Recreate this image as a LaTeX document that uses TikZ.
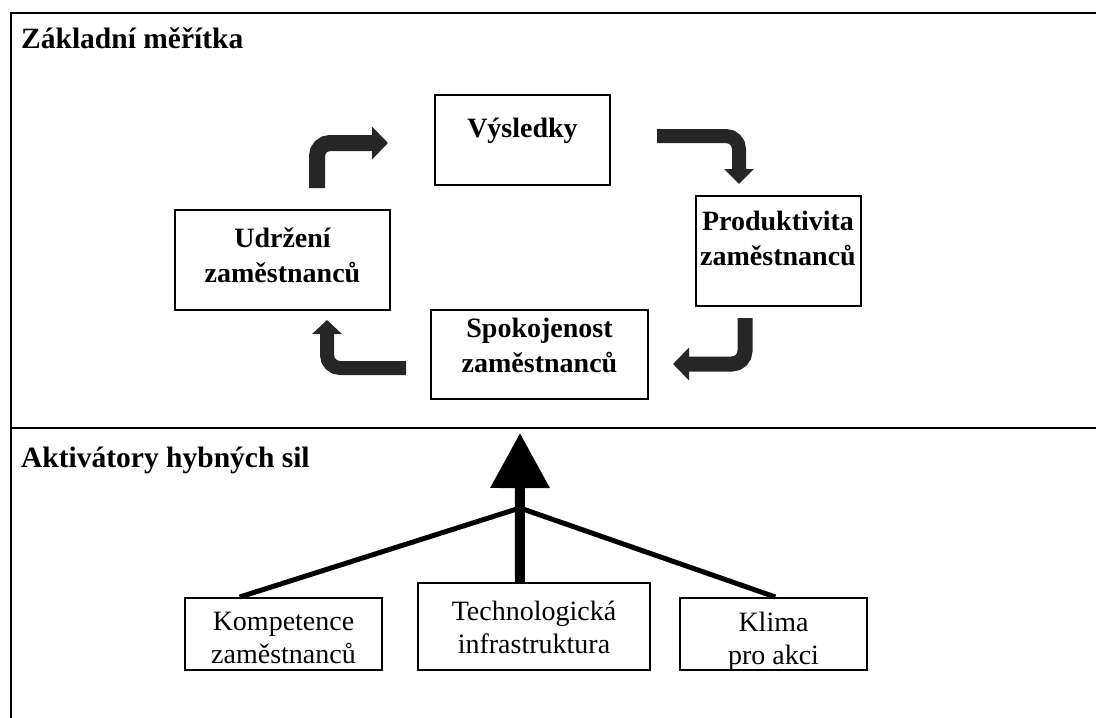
\documentclass[tikz,border=0pt]{standalone}
\usepackage{fontspec}
\setmainfont{Liberation Serif}
\usetikzlibrary{arrows.meta,calc}
\definecolor{ribbon}{HTML}{262626}
\newcommand\liftlines[2]{\raisebox{#1}[0pt][0pt]{\begin{tabular}{@{}c@{}}#2\end{tabular}}}
\tikzset{
  box/.style={draw, line width=2pt, inner sep=0pt, align=center,
    font=\fontsize{28}{33}\selectfont},
  bbox/.style={box, font=\fontsize{28}{35}\selectfont\bfseries},
  title/.style={anchor=base west, inner sep=0pt, font=\fontsize{29.5}{34}\selectfont\bfseries},
  frame/.style={line width=2.5pt, black},
  bent/.style={ribbon, rounded corners=13pt},
  fork/.style={line width=5pt, black},
}
\begin{document}
\begin{tikzpicture}[x=1pt,y=-1pt]
\useasboundingbox (0,0) rectangle (1096,718);
% frame
\draw[frame] (11,718) -- (11,13) -- (1096,13);
\draw[frame] (11,428) -- (1096,428);
% titles
\node[title] (t1) at (21,48) {Základní měřítka};
\node[title] (t2) at (21,467) {Aktivátory hybných sil};
% cycle boxes
\node[bbox, minimum width=175pt, minimum height=90pt] (vys) at (522.5,140) {\liftlines{3pt}{Výsledky}};
\node[bbox, minimum width=165pt, minimum height=110pt] (prod) at (778,251) {\liftlines{4pt}{Produktivita\\zaměstnanců}};
\node[bbox, minimum width=217pt, minimum height=89pt] (spok) at (539.5,354.5) {\liftlines{0pt}{Spokojenost\\zaměstnanců}};
\node[bbox, minimum width=215pt, minimum height=100pt] (udr) at (282.5,260) {\liftlines{-4pt}{Udržení\\zaměstnanců}};
% enabler boxes
\node[box, minimum width=197pt, minimum height=72pt] (komp) at (283.5,634) {\liftlines{-13pt}{Kompetence\\zaměstnanců}};
\node[box, minimum width=232pt, minimum height=87pt] (tech) at (534,626.5) {\liftlines{-10pt}{Technologická\\infrastruktura}};
\node[box, minimum width=187pt, minimum height=72pt] (klim) at (773.5,634) {\liftlines{-14pt}{Klima\\pro akci}};
% bent arrows
\coordinate (a1s) at (317,188); \coordinate (a1c) at (317,143); \coordinate (a1e) at (388,143);
\draw[bent, line width=16pt, -{Triangle[length=16pt,width=32pt]}] (a1s) -- (a1c) -- (a1e);
\coordinate (a2s) at (657,136); \coordinate (a2c) at (739,136); \coordinate (a2e) at (739,184);
\draw[bent, line width=14pt, -{Triangle[length=15pt,width=29pt]}] (a2s) -- (a2c) -- (a2e);
\coordinate (a3s) at (745,318); \coordinate (a3c) at (745,364); \coordinate (a3e) at (673,364);
\draw[bent, line width=15pt, -{Triangle[length=16pt,width=32pt]}] (a3s) -- (a3c) -- (a3e);
\coordinate (a4s) at (406,368); \coordinate (a4c) at (327,368); \coordinate (a4e) at (327,320);
\draw[bent, line width=14pt, -{Triangle[length=14pt,width=29pt]}] (a4s) -- (a4c) -- (a4e);
% big arrow and fork
\coordinate (tip) at (520,433);
\coordinate (junc) at (520,508);
\draw[line width=10pt, -{Triangle[length=55pt,width=57pt]}] ($(tech.north west)!0.44!(tech.north east)$) -- (tip);
\draw[fork] ($(komp.north west)!0.28!(komp.north east)$) -- (junc) -- ($(klim.north west)!0.51!(klim.north east)$);
\end{tikzpicture}
\end{document}
